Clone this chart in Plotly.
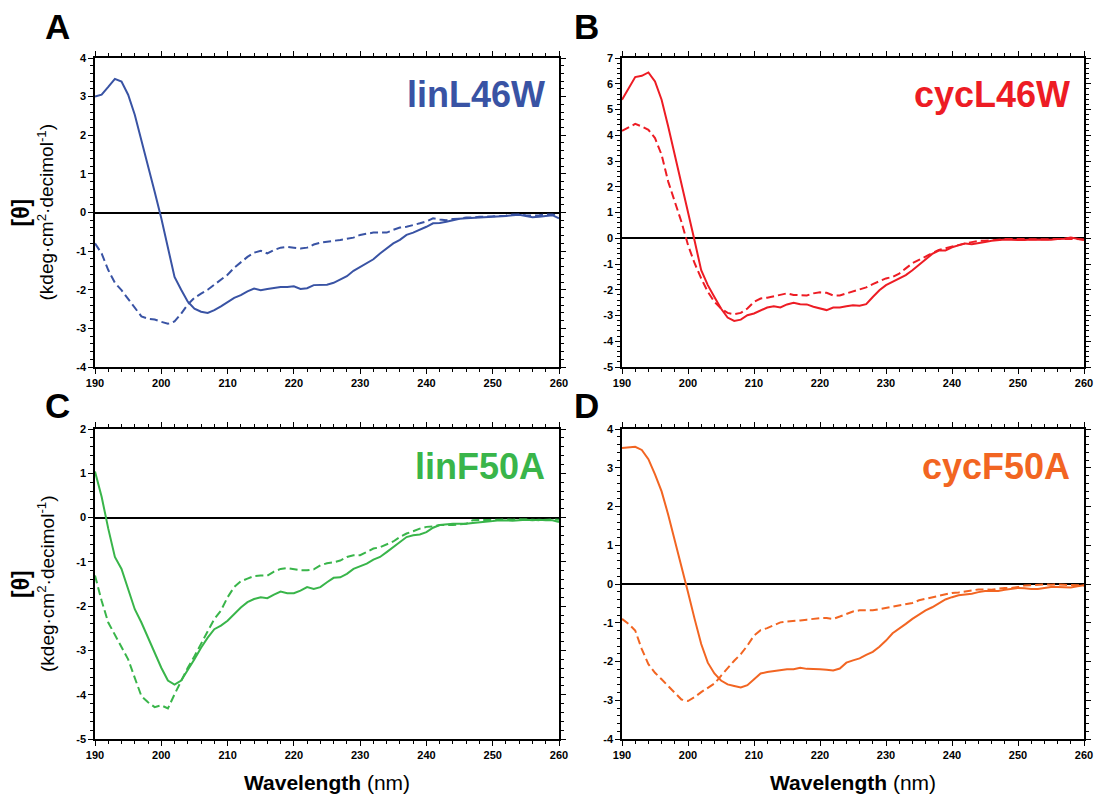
import plotly.graph_objects as go

# ---------------- data ----------------
wavelength = list(range(190, 261))

linL46W_solid = [3.00, 3.05, 3.25, 3.46, 3.39, 3.05, 2.53, 1.88, 1.19, 0.54,
                 -0.15, -0.93, -1.67, -2.00, -2.31, -2.49, -2.57, -2.60, -2.53, -2.43,
                 -2.32, -2.21, -2.14, -2.04, -1.97, -2.01, -1.98, -1.95, -1.93, -1.93,
                 -1.91, -1.98, -1.96, -1.88, -1.87, -1.87, -1.82, -1.74, -1.65, -1.51,
                 -1.41, -1.30, -1.21, -1.06, -0.93, -0.80, -0.71, -0.58, -0.52, -0.45,
                 -0.37, -0.28, -0.27, -0.24, -0.20, -0.16, -0.15, -0.14, -0.13, -0.12,
                 -0.11, -0.11, -0.09, -0.07, -0.06, -0.09, -0.12, -0.11, -0.09, -0.07,
                 -0.15]
linL46W_dashed = [-0.80, -1.06, -1.49, -1.82, -2.01, -2.23, -2.44, -2.69, -2.75, -2.77,
                  -2.83, -2.88, -2.82, -2.62, -2.38, -2.21, -2.10, -2.00, -1.87, -1.74,
                  -1.61, -1.43, -1.28, -1.15, -1.04, -0.99, -1.06, -0.97, -0.91, -0.89,
                  -0.91, -0.93, -0.91, -0.83, -0.78, -0.76, -0.73, -0.71, -0.68, -0.65,
                  -0.58, -0.55, -0.52, -0.52, -0.52, -0.45, -0.39, -0.37, -0.33, -0.28,
                  -0.23, -0.15, -0.18, -0.20, -0.17, -0.16, -0.13, -0.13, -0.11, -0.11,
                  -0.10, -0.09, -0.08, -0.05, -0.05, -0.07, -0.08, -0.07, -0.05, -0.05,
                  -0.08]

cycL46W_solid = [5.38, 5.83, 6.26, 6.31, 6.44, 6.09, 5.38, 4.34, 3.24, 2.14,
                 1.10, -0.10, -1.24, -1.82, -2.28, -2.73, -3.08, -3.21, -3.16, -2.99,
                 -2.92, -2.79, -2.69, -2.64, -2.69, -2.57, -2.51, -2.56, -2.57, -2.66,
                 -2.73, -2.79, -2.69, -2.69, -2.64, -2.60, -2.62, -2.56, -2.28, -2.02,
                 -1.82, -1.69, -1.56, -1.43, -1.24, -1.04, -0.82, -0.61, -0.48, -0.48,
                 -0.35, -0.26, -0.20, -0.23, -0.20, -0.15, -0.10, -0.07, -0.05, -0.06,
                 -0.07, -0.07, -0.05, -0.05, -0.07, -0.06, -0.03, -0.02, 0.03, -0.01,
                 -0.07]
cycL46W_dashed = [4.17, 4.32, 4.44, 4.34, 4.21, 3.89, 3.24, 2.20, 1.42, 0.64,
                  -0.26, -0.97, -1.56, -2.08, -2.47, -2.73, -2.90, -2.95, -2.90, -2.73,
                  -2.47, -2.34, -2.31, -2.25, -2.20, -2.14, -2.20, -2.21, -2.22, -2.14,
                  -2.10, -2.12, -2.22, -2.22, -2.14, -2.05, -1.99, -1.91, -1.78, -1.66,
                  -1.56, -1.50, -1.37, -1.17, -0.97, -0.84, -0.71, -0.58, -0.45, -0.39,
                  -0.32, -0.26, -0.20, -0.15, -0.10, -0.10, -0.07, -0.05, -0.03, -0.03,
                  -0.02, -0.03, -0.04, -0.04, -0.03, -0.05, -0.04, -0.03, -0.02, -0.03,
                  -0.05]

linF50A_solid = [1.04, 0.47, -0.25, -0.89, -1.16, -1.61, -2.07, -2.37, -2.71, -3.05,
                 -3.39, -3.68, -3.77, -3.68, -3.45, -3.20, -2.94, -2.71, -2.52, -2.44,
                 -2.33, -2.18, -2.03, -1.91, -1.84, -1.80, -1.82, -1.74, -1.67, -1.71,
                 -1.71, -1.65, -1.57, -1.61, -1.57, -1.46, -1.36, -1.35, -1.27, -1.16,
                 -1.10, -1.04, -0.95, -0.89, -0.78, -0.67, -0.55, -0.44, -0.40, -0.38,
                 -0.33, -0.23, -0.17, -0.15, -0.14, -0.14, -0.14, -0.12, -0.11, -0.10,
                 -0.08, -0.06, -0.07, -0.07, -0.06, -0.05, -0.06, -0.05, -0.06, -0.06,
                 -0.10]
linF50A_dashed = [-1.31, -1.88, -2.37, -2.64, -2.90, -3.20, -3.62, -4.03, -4.17, -4.28,
                  -4.24, -4.31, -3.99, -3.69, -3.39, -3.13, -2.86, -2.56, -2.29, -2.10,
                  -1.80, -1.57, -1.44, -1.38, -1.32, -1.31, -1.31, -1.22, -1.16, -1.14,
                  -1.16, -1.19, -1.19, -1.17, -1.08, -1.03, -1.01, -0.97, -0.89, -0.85,
                  -0.85, -0.78, -0.70, -0.67, -0.61, -0.54, -0.44, -0.36, -0.31, -0.25,
                  -0.21, -0.20, -0.17, -0.17, -0.17, -0.15, -0.14, -0.06, -0.06, -0.05,
                  -0.05, -0.05, -0.04, -0.05, -0.04, -0.04, -0.05, -0.06, -0.05, -0.04,
                  -0.05]

cycF50A_solid = [3.51, 3.52, 3.54, 3.46, 3.22, 2.83, 2.39, 1.79, 1.14, 0.49,
                 -0.21, -0.90, -1.55, -2.03, -2.31, -2.49, -2.59, -2.63, -2.67, -2.61,
                 -2.46, -2.31, -2.27, -2.25, -2.23, -2.20, -2.20, -2.16, -2.19, -2.19,
                 -2.20, -2.21, -2.23, -2.18, -2.03, -1.97, -1.92, -1.83, -1.75, -1.62,
                 -1.46, -1.27, -1.16, -1.03, -0.90, -0.79, -0.68, -0.60, -0.49, -0.40,
                 -0.34, -0.29, -0.27, -0.25, -0.21, -0.18, -0.18, -0.18, -0.15, -0.12,
                 -0.10, -0.11, -0.13, -0.13, -0.10, -0.08, -0.08, -0.08, -0.09, -0.06,
                 -0.03]
cycF50A_dashed = [-0.90, -1.03, -1.20, -1.68, -2.07, -2.29, -2.46, -2.63, -2.81, -2.98,
                  -3.02, -2.92, -2.79, -2.69, -2.57, -2.37, -2.16, -1.98, -1.81, -1.59,
                  -1.33, -1.19, -1.14, -1.07, -0.99, -0.97, -0.96, -0.94, -0.92, -0.90,
                  -0.88, -0.88, -0.90, -0.84, -0.77, -0.71, -0.68, -0.68, -0.68, -0.65,
                  -0.62, -0.58, -0.55, -0.53, -0.49, -0.42, -0.38, -0.34, -0.29, -0.25,
                  -0.23, -0.22, -0.19, -0.16, -0.14, -0.14, -0.15, -0.12, -0.10, -0.10,
                  -0.08, -0.04, -0.03, -0.01, -0.01, -0.02, -0.01, -0.02, -0.03, -0.03,
                  -0.04]

panel_names = ["linL46W", "cycL46W", "linF50A", "cycF50A"]
panel_letters = ["A", "B", "C", "D"]
panel_colors = ["#3953A4", "#ED1C24", "#39B54A", "#F26522"]
y_ranges = [[-4, 4], [-5, 7], [-5, 2], [-4, 4]]
x_tick_values = [190, 200, 210, 220, 230, 240, 250, 260]
x_tick_labels = ["190", "200", "210", "220", "230", "240", "250", "260"]

solid_series = [linL46W_solid, cycL46W_solid, linF50A_solid, cycF50A_solid]
dashed_series = [linL46W_dashed, cycL46W_dashed, linF50A_dashed, cycF50A_dashed]

# ---------------- layout geometry (page pixels) ----------------
W, H = 1097, 801
x_px = [(95, 559), (622, 1084), (95, 559), (622, 1084)]
y_px = [(58, 367), (58, 367), (429, 739), (429, 739)]

def px_x(p):
    return p / W

def px_y(p):
    return 1 - p / H

FONT = "Liberation Sans, Arial, sans-serif"

fig = go.Figure()
layout = dict(
    width=W, height=H,
    margin=dict(l=0, r=0, t=0, b=0, autoexpand=False),
    paper_bgcolor="white", plot_bgcolor="white",
    showlegend=False,
    font=dict(family=FONT, color="black"),
)

annotations = []
for i in range(4):
    n = "" if i == 0 else str(i + 1)
    xa, ya = "x" + n, "y" + n
    color = panel_colors[i]
    fig.add_trace(go.Scatter(x=wavelength, y=solid_series[i], mode="lines",
                             line=dict(color=color, width=2), xaxis=xa, yaxis=ya))
    fig.add_trace(go.Scatter(x=wavelength, y=dashed_series[i], mode="lines",
                             line=dict(color=color, width=2, dash="8px,4px"),
                             xaxis=xa, yaxis=ya))
    lo, hi = y_ranges[i]
    yvals = list(range(lo, hi + 1))
    ytext = [str(v) for v in yvals]
    layout["xaxis" + n] = dict(
        domain=[px_x(x_px[i][0]), px_x(x_px[i][1])],
        anchor=ya, range=[190, 260], automargin=False,
        showline=True, linecolor="black", linewidth=1.5, mirror="ticks",
        ticks="outside", ticklen=5, tickwidth=1.2, tickcolor="black",
        tickvals=x_tick_values, ticktext=x_tick_labels,
        tickfont=dict(family=FONT, size=11, color="black", weight="bold"),
        minor=dict(dtick=2, ticks="outside", ticklen=3, tickcolor="black", tickwidth=1),
        showgrid=False, zeroline=False,
    )
    layout["yaxis" + n] = dict(
        domain=[px_y(y_px[i][1]), px_y(y_px[i][0])],
        anchor=xa, range=[lo, hi], automargin=False,
        showline=True, linecolor="black", linewidth=1.5, mirror="ticks",
        ticks="outside", ticklen=5, tickwidth=1.2, tickcolor="black",
        tickvals=yvals, ticktext=ytext,
        tickfont=dict(family=FONT, size=11, color="black", weight="bold"),
        minor=dict(dtick=0.2, ticks="outside", ticklen=3, tickcolor="black", tickwidth=1),
        showgrid=False,
        zeroline=True, zerolinecolor="black", zerolinewidth=1.5,
    )
    # panel name
    title_y = y_px[i][0] + 37
    annotations.append(dict(
        text="<b>" + panel_names[i] + "</b>", xref="paper", yref="paper",
        x=px_x(x_px[i][1] - 12), y=px_y(title_y), xanchor="right", yanchor="middle",
        showarrow=False, font=dict(family=FONT, size=36, color=color)))
    # panel letter
    annotations.append(dict(
        text="<b>" + panel_letters[i] + "</b>", xref="paper", yref="paper",
        x=px_x(57 if i % 2 == 0 else 586), y=px_y(27 if i < 2 else 405),
        xanchor="center", yanchor="middle", showarrow=False,
        font=dict(family=FONT, size=35, color="black")))

# y-axis titles (A and C)
for i in (0, 2):
    yc = (y_px[i][0] + y_px[i][1]) / 2
    annotations.append(dict(
        text="<b>[θ]</b>", xref="paper", yref="paper", x=px_x(21), y=px_y(yc),
        xanchor="center", yanchor="middle", textangle=-90, showarrow=False,
        font=dict(family=FONT, size=23, color="black")))
    annotations.append(dict(
        text="(kdeg·cm<sup>2</sup>·decimol<sup>-1</sup>)", xref="paper", yref="paper",
        x=px_x(46), y=px_y(yc), xanchor="center", yanchor="middle", textangle=-90,
        showarrow=False, font=dict(family=FONT, size=19, color="black")))

# x-axis titles (C and D)
for i in (2, 3):
    xc = (x_px[i][0] + x_px[i][1]) / 2
    annotations.append(dict(
        text="<b>Wavelength</b> (nm)", xref="paper", yref="paper", x=px_x(xc), y=px_y(782),
        xanchor="center", yanchor="middle", showarrow=False,
        font=dict(family=FONT, size=21, color="black")))

layout["annotations"] = annotations
fig.update_layout(**layout)
fig.write_html("out.html",
               config={"displayModeBar": False},
               post_script="document.body.style.margin='0';"
                           "document.body.style.overflow='hidden';")
